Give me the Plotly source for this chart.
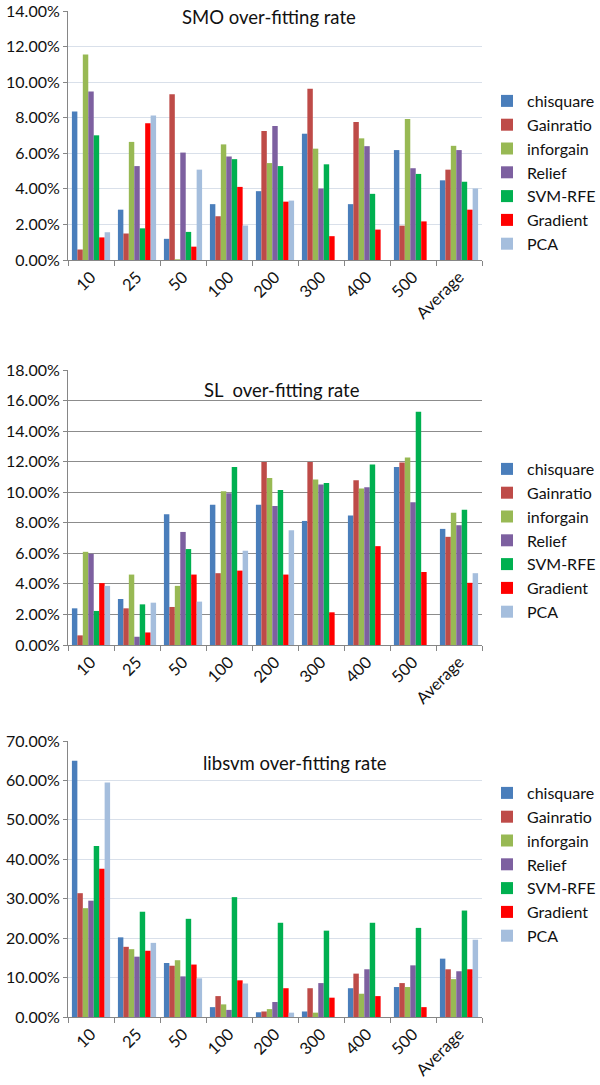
import plotly.graph_objects as go

categories = ["10", "25", "50", "100", "200", "300", "400", "500", "Average"]
methods = ["chisquare", "Gainratio", "inforgain", "Relief", "SVM-RFE", "Gradient", "PCA"]
colors = ["#4A7EBB", "#BE4B48", "#98B954", "#7D60A0", "#00B050", "#FF0000", "#A5BEDD"]

# values in percent
smo_chisquare = [8.35, 2.83, 1.19, 3.14, 3.87, 7.10, 3.14, 6.18, 4.48]
smo_gainratio = [0.59, 1.49, 9.32, 2.46, 7.25, 9.63, 7.76, 1.93, 5.08]
smo_inforgain = [11.56, 6.64, 0.04, 6.50, 5.45, 6.26, 6.84, 7.93, 6.42]
smo_relief = [9.47, 5.28, 6.04, 5.82, 7.54, 4.02, 6.40, 5.16, 6.18]
smo_svmrfe = [7.01, 1.78, 1.58, 5.67, 5.28, 5.38, 3.72, 4.84, 4.40]
smo_gradient = [1.27, 7.69, 0.75, 4.11, 3.28, 1.34, 1.71, 2.17, 2.83]
smo_pca = [1.56, 8.13, 5.08, 1.94, 3.34, 0, 0, 0, 4.02]

sl_chisquare = [2.40, 3.01, 8.55, 9.18, 9.18, 8.12, 8.48, 11.65, 7.60]
sl_gainratio = [0.63, 2.40, 2.49, 4.70, 11.97, 11.97, 10.78, 11.95, 7.08]
sl_inforgain = [6.10, 4.61, 3.87, 10.06, 10.93, 10.84, 10.24, 12.27, 8.66]
sl_relief = [5.97, 0.54, 7.40, 9.94, 9.09, 10.50, 10.32, 9.35, 7.84]
sl_svmrfe = [2.23, 2.66, 6.28, 11.65, 10.15, 10.61, 11.82, 15.26, 8.85]
sl_gradient = [4.05, 0.82, 4.61, 4.87, 4.61, 2.14, 6.47, 4.78, 4.07]
sl_pca = [3.87, 2.77, 2.84, 6.17, 7.51, 0, 0, 0, 4.70]

lib_chisquare = [65.0, 20.2, 13.7, 2.5, 1.2, 1.4, 7.3, 7.6, 14.8]
lib_gainratio = [31.4, 17.8, 13.0, 5.3, 1.4, 7.3, 11.0, 8.6, 12.1]
lib_inforgain = [27.6, 17.2, 14.4, 3.2, 2.0, 1.1, 5.9, 7.6, 9.6]
lib_relief = [29.5, 15.3, 10.3, 1.8, 3.8, 8.6, 12.1, 13.1, 11.6]
lib_svmrfe = [43.4, 26.7, 24.9, 30.4, 23.9, 21.9, 23.9, 22.6, 27.0]
lib_gradient = [37.6, 16.8, 13.3, 9.3, 7.3, 4.9, 5.3, 2.5, 12.1]
lib_pca = [59.5, 18.8, 9.8, 8.5, 1.1, 0, 0, 0, 19.6]

charts = [
    ("SMO over-fitting rate", [smo_chisquare, smo_gainratio, smo_inforgain, smo_relief, smo_svmrfe, smo_gradient, smo_pca], 0.14, 0.02),
    ("SL\u00a0\u00a0over-fitting rate", [sl_chisquare, sl_gainratio, sl_inforgain, sl_relief, sl_svmrfe, sl_gradient, sl_pca], 0.18, 0.02),
    ("libsvm over-fitting rate", [lib_chisquare, lib_gainratio, lib_inforgain, lib_relief, lib_svmrfe, lib_gradient, lib_pca], 0.70, 0.10),
]

H = 1085.0
W = 600.0
# pixel positions of zero line and top line for each chart
ypix = [(260, 11), (645, 370), (1017, 741)]
title_pix = [(269, 17), (282, 390), (295, 763)]
legend_top = [84, 452, 776]
grid_colors = ["#D9E0EA", "#8C8C8C", "#D9E0EA"]

FONT = "Lato, Carlito, 'Open Sans', sans-serif"

fig = go.Figure()
layout = dict(
    template="none",
    width=600, height=1085,
    margin=dict(l=0, r=0, t=0, b=0, autoexpand=False),
    paper_bgcolor="white", plot_bgcolor="white",
    barmode="group", bargap=0.17, bargroupgap=0,
    font=dict(family=FONT, color="#222222"),
    annotations=[],
)

for i, (title, series, ymax, dtick) in enumerate(charts):
    n = "" if i == 0 else str(i + 1)
    xa = "x" + n
    ya = "y" + n
    lg = "legend" + n
    for m, vals, c in zip(methods, series, colors):
        fig.add_trace(go.Bar(
            x=categories, y=[v / 100 for v in vals], name=m,
            marker=dict(color=c, line=dict(width=0)),
            xaxis=xa, yaxis=ya, legend=lg, legendgroup=lg + m,
        ))
    y0, y1 = ypix[i]
    layout["xaxis" + n] = dict(
        domain=[68 / W, 482 / W], anchor=ya, automargin=False,
        type="category", tickangle=-45,
        tickfont=dict(size=16.5, color="#111111"),
        showline=True, linecolor="#868686", linewidth=1,
        ticks="outside", ticklen=5, tickcolor="#868686", tickson="boundaries",
        showgrid=False, zeroline=False, fixedrange=True,
    )
    layout["yaxis" + n] = dict(
        domain=[1 - y0 / H, 1 - y1 / H], anchor=xa, automargin=False,
        range=[0, ymax], dtick=dtick, tickformat=".2%",
        tickfont=dict(size=16, color="#111111"), ticklabeloverflow="allow",
        showline=True, linecolor="#868686", linewidth=1,
        ticks="outside", ticklen=4, tickcolor="#868686",
        showgrid=True, gridcolor=grid_colors[i], gridwidth=1,
        zeroline=False, fixedrange=True,
    )
    layout[lg] = dict(
        x=487 / W, xanchor="left", y=1 - legend_top[i] / H, yanchor="top",
        font=dict(size=16, color="#111111"),
        bgcolor="rgba(0,0,0,0)", tracegroupgap=6.5,
        itemwidth=30, traceorder="normal",
    )
    tx, ty = title_pix[i]
    layout["annotations"].append(dict(
        text=title, x=tx / W, y=1 - ty / H, xref="paper", yref="paper",
        showarrow=False, font=dict(size=18.5, color="#111111"),
        xanchor="center", yanchor="middle",
    ))

fig.update_layout(**layout)
fig.write_html(
    "out.html",
    config={"displayModeBar": False, "staticPlot": True},
    post_script="document.body.style.margin='0';document.body.style.overflow='hidden';",
)
